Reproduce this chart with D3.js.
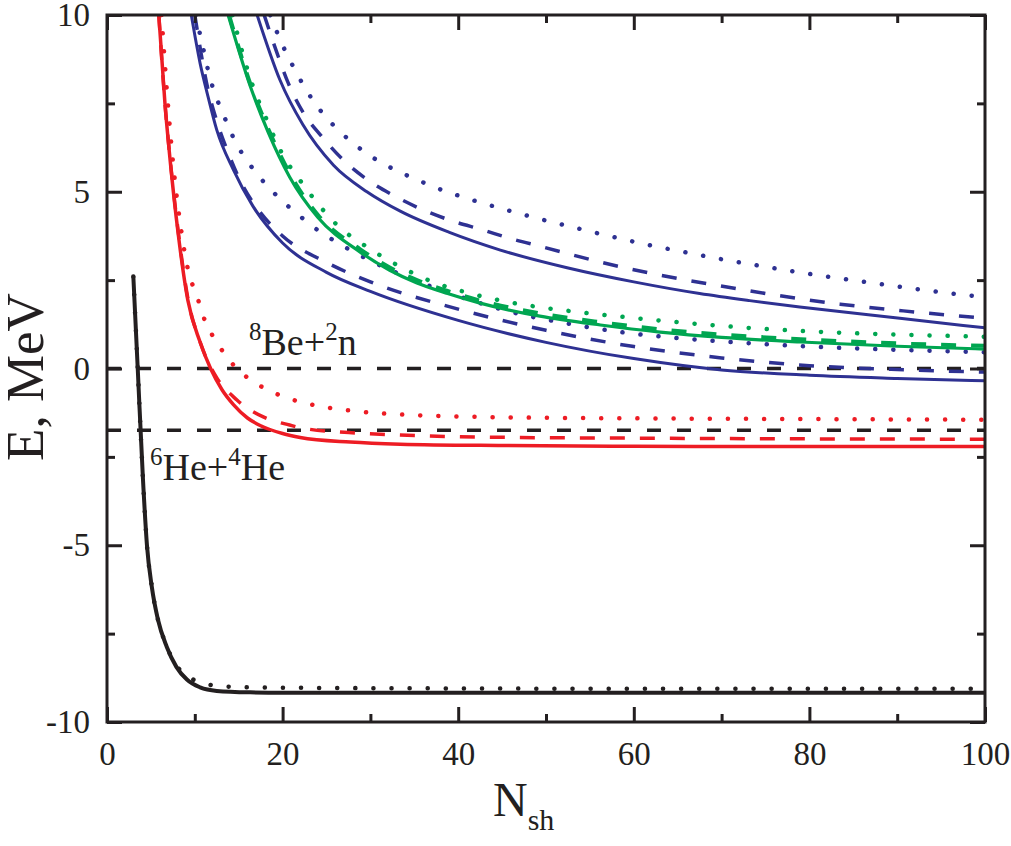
<!DOCTYPE html>
<html>
<head>
<meta charset="utf-8">
<script src="https://cdn.jsdelivr.net/npm/d3@7"></script>
<style>
  body { margin: 0; background: #fff; }
  svg text { font-family: "Liberation Serif", "Times New Roman", serif; }
</style>
</head>
<body>
<div id="chart"></div>
<script>
// energies E (MeV) vs N_sh
const black_solid = [[3,2.6],[3.5,0],[4.1,-3.15],[4.55,-5.0],[5.1,-6.17],[5.8,-7.1],[6.8,-7.87],[7.9,-8.44],[9.1,-8.8],[10.6,-9.02],[12.5,-9.12],[16.3,-9.16],[20,-9.17],[40,-9.17],[60,-9.17],[80,-9.17],[100,-9.17]];
const black_dot = [[3,2.6],[3.5,0],[4.1,-3.15],[4.55,-5.0],[5.1,-6.17],[5.8,-7.1],[6.8,-7.85],[7.4,-8.2],[8.5,-8.58],[10.6,-8.87],[12.6,-8.98],[14.8,-9.01],[20,-9.03],[40,-9.05],[60,-9.06],[80,-9.06],[100,-9.06]];

const red_solid = [[5.9,10],[6.6,7.5],[7.2,5.87],[8.1,3.83],[9.2,1.94],[10.6,0.75],[11.8,0],[13.1,-0.6],[14.4,-1.02],[16,-1.4],[17.5,-1.62],[20,-1.84],[22,-1.95],[27.7,-2.08],[33.4,-2.14],[45,-2.18],[60,-2.2],[80,-2.21],[100,-2.21]];
const red_dash = [[5.9,10],[6.6,7.5],[7.2,5.9],[8.1,3.9],[9.2,2.0],[10.6,0.75],[12.3,-0.18],[14.8,-0.89],[17.8,-1.37],[20.8,-1.6],[22.3,-1.69],[28.8,-1.83],[33.4,-1.88],[42.5,-1.94],[60,-1.97],[80,-1.99],[100,-2.0]];
const red_dot = [[6.2,10],[6.9,7.6],[7.5,5.87],[8.5,3.83],[8.9,3.2],[10.5,1.85],[11.2,1.32],[12.2,0.86],[13.2,0.48],[14.4,0.1],[15.8,-0.22],[17.8,-0.54],[19.7,-0.76],[21.8,-0.93],[23.9,-1.05],[28,-1.2],[34.2,-1.31],[42.5,-1.37],[60,-1.41],[80,-1.43],[100,-1.45]];

const blue1_solid = [[9.6,10],[10.6,8.64],[11.5,7.7],[12.5,6.75],[14.4,5.62],[16.6,4.6],[20,3.55],[25,2.72],[30,2.18],[40,1.36],[50,0.74],[60,0.28],[70,-0.04],[80,-0.19],[90,-0.28],[100,-0.35]];
const blue1_dash = [[10,10],[11.5,7.9],[12.5,7.0],[13.8,6.1],[15.4,5.2],[17.2,4.5],[20,3.75],[25,3.0],[30,2.45],[40,1.68],[50,1.08],[60,0.62],[70,0.3],[80,0.08],[90,-0.03],[100,-0.1]];
const blue1_dot = [[10.1,10],[10.8,9.23],[11.7,8.25],[12.3,7.76],[13.1,7.28],[13.9,6.8],[14.8,6.33],[15.9,5.9],[17.1,5.5],[18.5,5.1],[20,4.73],[21.6,4.39],[23.3,4.04],[25,3.75],[27,3.45],[30,3.05],[35,2.5],[40,2.05],[46.5,1.57],[52.7,1.26],[58.8,1.02],[65,0.86],[71,0.75],[80,0.62],[90,0.53],[100,0.46]];

const green_solid = [[13.8,10],[16.3,8.0],[18.4,6.66],[20.8,5.42],[24,4.28],[28.8,3.3],[32.2,2.78],[35.3,2.42],[38.7,2.13],[42.5,1.85],[49.3,1.48],[56.2,1.23],[63,1.03],[70,0.88],[79,0.75],[90,0.63],[100,0.55]];
const green_dash = [[13.9,10],[16.4,8.0],[18.5,6.7],[20.9,5.48],[24,4.35],[28.8,3.38],[32.2,2.86],[35.3,2.5],[38.7,2.2],[42.5,1.92],[49.3,1.56],[56.2,1.31],[63,1.11],[70,0.96],[79,0.83],[90,0.71],[100,0.64]];
const green_dot = [[14.3,10],[15.4,8.96],[16.6,8.0],[18.2,7.03],[19.9,6.1],[22.2,5.25],[24.8,4.43],[26.2,4.06],[29.6,3.44],[33.4,2.88],[37.1,2.45],[41.3,2.13],[45.5,1.89],[50,1.71],[53.6,1.6],[62,1.38],[68.3,1.24],[72.4,1.16],[80.9,1.04],[90,0.96],[100,0.9]];

const blue2_solid = [[17.1,10],[19.7,8.16],[22.3,6.9],[25.8,5.75],[29.6,5.0],[33.4,4.45],[39,3.85],[44.8,3.35],[52.4,2.85],[60,2.45],[67.5,2.12],[73.2,1.92],[78.9,1.74],[90.3,1.42],[100,1.15]];
const blue2_dash = [[17.9,10],[19.4,8.9],[20.6,8.1],[22.3,7.26],[24.4,6.58],[26.9,5.9],[29.6,5.35],[32.6,4.9],[35.6,4.53],[39,4.2],[42.8,3.92],[46.2,3.66],[49.3,3.46],[56.2,3.01],[63,2.64],[69.8,2.34],[76.6,2.06],[83.5,1.82],[90.7,1.63],[100,1.42]];
const blue2_dot = [[18.6,10],[19.6,9.37],[21.4,8.45],[23.5,7.57],[24.8,7.15],[26.2,6.78],[27.9,6.4],[29.6,6.08],[31.4,5.8],[33.4,5.55],[35.3,5.34],[37.1,5.15],[41.3,4.79],[45.3,4.5],[49.3,4.23],[53.5,3.97],[57.5,3.73],[61.6,3.5],[65.6,3.3],[69.8,3.1],[74,2.92],[78.1,2.75],[82.3,2.59],[86.6,2.44],[90.7,2.3],[94.6,2.17],[100,2.02]];

// thresholds 8Be+2n and 6He+4He
const thresholds = [0, -1.75];

const xTicks = [0, 20, 40, 60, 80, 100];
const xMinor = [10, 30, 50, 70, 90];
const yTicks = [-10, -5, 0, 5, 10];
const yMinor = [-7.5, -2.5, 2.5, 7.5];

const BLUE = "#2e3192", RED = "#ed1c24", GREEN = "#00a651", BLACK = "#231f20";

function draw() {
  const W = 1011, H = 846;
  const left = 107, right = 985, top = 15, bottom = 722;

  const svg = d3.select("#chart").append("svg")
    .attr("width", W).attr("height", H);

  const x = d3.scaleLinear().domain([0, 100]).range([left, right]);
  const y = d3.scaleLinear().domain([-10, 10]).range([bottom, top]);

  svg.append("clipPath").attr("id", "clip")
    .append("rect").attr("x", left).attr("y", top)
    .attr("width", right - left).attr("height", bottom - top);

  const line = d3.line()
    .x(d => x(d[0])).y(d => y(d[1]))
    .curve(d3.curveMonotoneX);

  const plot = svg.append("g").attr("clip-path", "url(#clip)");

  // dashed threshold lines
  plot.selectAll("line.thr")
    .data(thresholds)
    .join("line")
      .attr("class", "thr")
      .attr("x1", x(0)).attr("x2", x(100))
      .attr("y1", d => y(d)).attr("y2", d => y(d))
      .attr("stroke", BLACK)
      .attr("stroke-width", 3.5)
      .attr("stroke-dasharray", "14 16");

  const series = [
    { d: black_dot, c: BLACK, s: "dot", w: 4.5 },
    { d: black_solid, c: BLACK, s: "solid", w: 4 },
    { d: red_dot, c: RED, s: "dot", w: 4.5 },
    { d: red_dash, c: RED, s: "dash", w: 3.5 },
    { d: red_solid, c: RED, s: "solid", w: 3.5 },
    { d: blue1_dot, c: BLUE, s: "dot", w: 4.5 },
    { d: blue1_dash, c: BLUE, s: "dash", w: 3.5 },
    { d: blue1_solid, c: BLUE, s: "solid", w: 3 },
    { d: blue2_dot, c: BLUE, s: "dot", w: 4.5 },
    { d: blue2_dash, c: BLUE, s: "dash", w: 3.5 },
    { d: blue2_solid, c: BLUE, s: "solid", w: 3 },
    { d: green_dot, c: GREEN, s: "dot", w: 4.5 },
    { d: green_dash, c: GREEN, s: "dash", w: 4 },
    { d: green_solid, c: GREEN, s: "solid", w: 3.2 }
  ];

  plot.selectAll("path.curve")
    .data(series)
    .join("path")
      .attr("class", "curve")
      .attr("d", d => line(d.d))
      .attr("fill", "none")
      .attr("stroke", d => d.c)
      .attr("stroke-width", d => d.w)
      .attr("stroke-linecap", d => d.s == "dot" ? "round" : "butt")
      .attr("stroke-dasharray", d => d.s == "dot" ? "0.1 18" : (d.s == "dash" ? "15 15" : null));

  // axes, ticks pointing inward on all four sides
  const axisStyle = g => {
    g.attr("font-family", null).attr("font-size", null);
    g.select(".domain").remove();
    g.selectAll(".tick line").attr("stroke", BLACK).attr("stroke-width", 3);
    g.selectAll(".tick text").attr("fill", BLACK).style("font-size", "33px");
  };
  const fmt = d => String(d);

  svg.append("g").attr("transform", `translate(0,${bottom})`)
    .call(d3.axisBottom(x).tickValues(xTicks).tickSize(-15).tickPadding(20).tickFormat(fmt))
    .call(axisStyle);
  svg.append("g").attr("transform", `translate(0,${bottom})`)
    .call(d3.axisBottom(x).tickValues(xMinor).tickSize(-8).tickFormat(""))
    .call(axisStyle);
  svg.append("g").attr("transform", `translate(0,${top})`)
    .call(d3.axisTop(x).tickValues(xTicks).tickSize(-15).tickFormat(""))
    .call(axisStyle);
  svg.append("g").attr("transform", `translate(0,${top})`)
    .call(d3.axisTop(x).tickValues(xMinor).tickSize(-8).tickFormat(""))
    .call(axisStyle);

  svg.append("g").attr("transform", `translate(${left},0)`)
    .call(d3.axisLeft(y).tickValues(yTicks).tickSize(-15).tickPadding(17).tickFormat(fmt))
    .call(axisStyle);
  svg.append("g").attr("transform", `translate(${left},0)`)
    .call(d3.axisLeft(y).tickValues(yMinor).tickSize(-8).tickFormat(""))
    .call(axisStyle);
  svg.append("g").attr("transform", `translate(${right},0)`)
    .call(d3.axisRight(y).tickValues(yTicks).tickSize(-15).tickFormat(""))
    .call(axisStyle);
  svg.append("g").attr("transform", `translate(${right},0)`)
    .call(d3.axisRight(y).tickValues(yMinor).tickSize(-8).tickFormat(""))
    .call(axisStyle);

  // frame
  svg.append("rect")
    .attr("x", left).attr("y", top)
    .attr("width", right - left).attr("height", bottom - top)
    .attr("fill", "none").attr("stroke", BLACK).attr("stroke-width", 3);

  // axis titles
  const xt = svg.append("text")
    .attr("x", 493).attr("y", 816)
    .attr("fill", BLACK).style("font-size", "48px");
  xt.append("tspan").text("N");
  xt.append("tspan").attr("dy", 14).style("font-size", "30px").text("sh");

  svg.append("text")
    .attr("transform", `translate(43,377) rotate(-90)`)
    .attr("text-anchor", "middle")
    .attr("fill", BLACK).style("font-size", "53px")
    .text("E, MeV");

  // threshold labels
  const l1 = svg.append("text").attr("x", 249).attr("y", 355)
    .attr("fill", BLACK).style("font-size", "38px");
  l1.append("tspan").attr("dy", -15).style("font-size", "25px").text("8");
  l1.append("tspan").attr("dy", 15).text("Be+");
  l1.append("tspan").attr("dy", -15).style("font-size", "25px").text("2");
  l1.append("tspan").attr("dy", 15).text("n");

  const l2 = svg.append("text").attr("x", 150).attr("y", 480)
    .attr("fill", BLACK).style("font-size", "38px");
  l2.append("tspan").attr("dy", -15).style("font-size", "25px").text("6");
  l2.append("tspan").attr("dy", 15).text("He+");
  l2.append("tspan").attr("dy", -15).style("font-size", "25px").text("4");
  l2.append("tspan").attr("dy", 15).text("He");
}

draw();
</script>
</body>
</html>
